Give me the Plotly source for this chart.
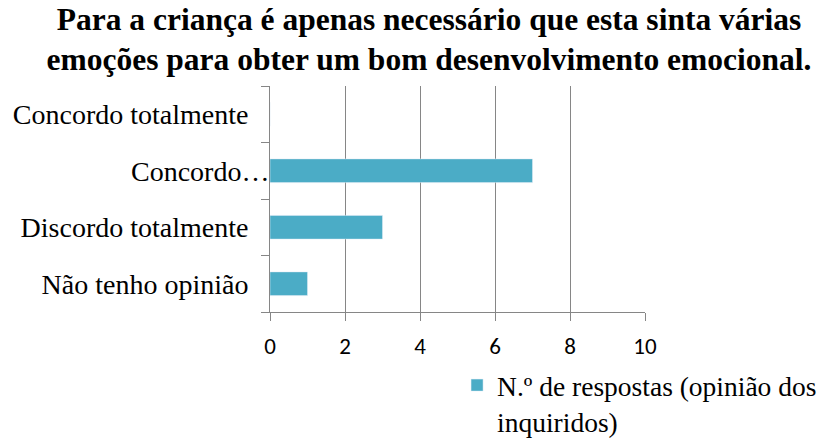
import plotly.graph_objects as go

categories = ["Concordo totalmente", "Concordo…", "Discordo totalmente", "Não tenho opinião"]
respostas = [0, 7, 3, 1]
x_ticks = [0, 2, 4, 6, 8, 10]

title_text = ("<b>Para a criança é apenas necessário que esta sinta várias<br>"
              "emoções para obter um bom desenvolvimento emocional.</b>")
serif = "Liberation Serif, Times New Roman, serif"
sans = "Carlito, Lato, Calibri, sans-serif"

# Excel trunca o segundo rótulo com "…", que fica encostado ao eixo
pad = "\u00a0\u00a0\u00a0"
tick_text = [c if c.endswith("…") else c + pad for c in categories]

fig = go.Figure()
fig.add_trace(
    go.Bar(
        x=respostas,
        y=categories,
        orientation="h",
        width=0.42,
        name="N.º de respostas (opinião dos<br>inquiridos)",
        marker=dict(color="#4BACC6"),
    )
)
fig.update_layout(
    width=825,
    height=441,
    paper_bgcolor="white",
    plot_bgcolor="white",
    margin=dict(t=86, b=129, l=270, r=180, autoexpand=False),
    title=dict(
        text=title_text,
        font=dict(family=serif, size=31.5, color="black"),
        x=0.52,
        xanchor="center",
        xref="container",
        yref="container",
        y=0.933,
        yanchor="top",
    ),
    showlegend=True,
    legend=dict(
        xref="container",
        yref="container",
        x=0.554,
        y=0.182,
        xanchor="left",
        yanchor="top",
        valign="top",
        font=dict(family=serif, size=27.5, color="black"),
        itemwidth=30,
    ),
    xaxis=dict(
        range=[0, 10],
        tickvals=x_ticks,
        showgrid=True,
        gridcolor="#868686",
        gridwidth=1,
        showline=True,
        linecolor="#868686",
        ticks="outside",
        ticklen=8,
        tickcolor="#868686",
        tickfont=dict(family=sans, size=23, color="black"),
        ticklabelstandoff=5,
        zeroline=False,
    ),
    yaxis=dict(
        categoryorder="array",
        categoryarray=categories,
        tickvals=categories,
        ticktext=tick_text,
        autorange="reversed",
        showline=True,
        linecolor="#868686",
        ticks="outside",
        ticklen=8,
        tickcolor="#868686",
        tickson="boundaries",
        showgrid=False,
        tickfont=dict(family=serif, size=28, color="black"),
        ticklabelstandoff=-6,
    ),
)
fig.write_html(
    "out.html",
    config={"displayModeBar": False},
    post_script="document.body.style.margin='0';",
)
